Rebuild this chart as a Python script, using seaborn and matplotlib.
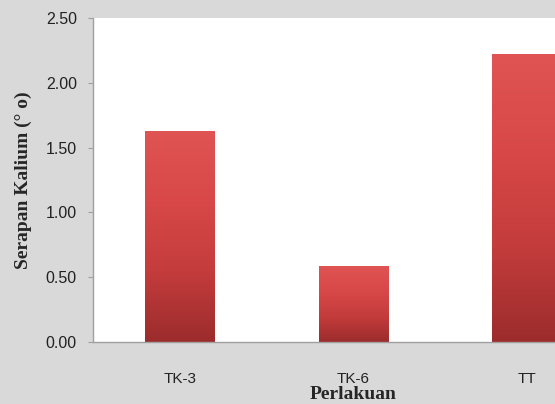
import numpy as np
import pandas as pd
import matplotlib
matplotlib.use('Agg')
import matplotlib.pyplot as plt
import seaborn as sns
from matplotlib.colors import LinearSegmentedColormap

# data
perlakuan = ["TK-3", "TK-6", "TT"]
serapan = [1.63, 0.59, 2.22]
yticks = [0.0, 0.5, 1.0, 1.5, 2.0, 2.5]

df = pd.DataFrame({"Perlakuan": perlakuan, "Serapan": serapan})

sns.set_style("white")
fig = plt.figure(figsize=(5.55, 4.04), dpi=100, facecolor="#d9d9d9")
ax = fig.add_axes([0.1676, 0.1535, 0.9379, 0.8019])
ax.set_facecolor("white")

sns.barplot(data=df, x="Perlakuan", y="Serapan", color="#d04444",
            width=0.40, ax=ax, edgecolor="none", saturation=1)

# gradient fill clipped to bars
cmap = LinearSegmentedColormap.from_list("bar", ["#9c2c2c", "#c43c3c", "#d84848", "#e05454"])
grad = np.linspace(0, 1, 256).reshape(-1, 1)
for p in ax.patches:
    x0, y0 = p.get_x(), p.get_y()
    w, h = p.get_width(), p.get_height()
    im = ax.imshow(grad, cmap=cmap, origin="lower", aspect="auto",
                   extent=[x0, x0 + w, y0, y0 + h], zorder=p.get_zorder() + 0.1)
    im.set_clip_path(p)

ax.set_xlim(-0.5, 2.5)
ax.set_ylim(0, 2.5)
ax.set_yticks(yticks)
ax.set_yticklabels([f"{v:.2f}" for v in yticks])

for s in ["top", "right"]:
    ax.spines[s].set_visible(False)
for s in ["left", "bottom"]:
    ax.spines[s].set_color("#a0a0a0")
    ax.spines[s].set_linewidth(1.0)

ax.tick_params(axis="y", left=True, length=3.6, color="#a0a0a0", pad=8,
               labelsize=11.5, labelcolor="#222222")
ax.tick_params(axis="x", bottom=False, pad=18, labelsize=11, labelcolor="#222222")
for t in ax.get_xticklabels() + ax.get_yticklabels():
    t.set_family("Liberation Sans")

ax.set_xlabel("Perlakuan", family="Liberation Serif", fontweight="bold",
              fontsize=14, labelpad=0)
ax.set_ylabel("Serapan Kalium (° o)", family="Liberation Serif", fontweight="bold",
              fontsize=14, labelpad=10)

fig.savefig("out.png", dpi=100, facecolor=fig.get_facecolor())
